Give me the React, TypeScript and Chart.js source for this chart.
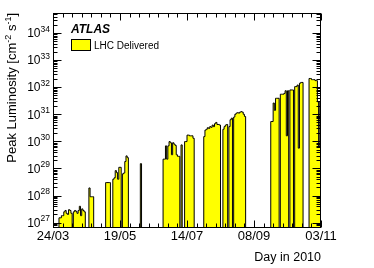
import { useEffect, useRef } from 'react';
import { Chart, registerables } from 'chart.js';

Chart.register(...registerables);

// ---- axis definitions ----
const tickDays = [0, 56, 112, 168, 224];
const tickLabels = ['24/03', '19/05', '14/07', '08/09', '03/11'];
const minorTickDays = 8;
const decadeExponents = [27, 28, 29, 30, 31, 32, 33, 34];
const X_MIN = 0;
const X_MAX = 224;
const Y_MIN = Math.pow(10, 26.8);
const Y_MAX = Math.pow(10, 34.74);
const FLOOR = 1e26; // days without stable beams

// ---- data: day (since 24/03) and peak luminosity [cm^-2 s^-1] ----
const lumiDays = [
  5, 6, 7, 8, 9, 10, 11, 12, 13, 14, 15,
  17, 18, 19, 20, 21, 22, 23, 24, 25, 26,
  30, 31, 32, 33,
  44, 45, 46, 47,
  50, 51, 52, 53, 54, 55, 56,
  58, 59, 60, 61, 62,
  73,
  92, 93, 94, 95, 96, 97, 98, 99, 100, 101, 102, 103, 104, 105,
  107,
  110, 111, 112, 113, 114, 115, 116, 117,
  126, 127, 128, 129, 130, 131, 132, 133, 134, 135, 136, 137, 138, 139,
  142, 143, 144, 145, 147, 148, 149,
  151, 152, 153, 154, 155, 156, 157, 158, 159, 160,
  182, 183, 184, 185, 186, 187, 188, 190, 191, 192, 193, 194, 195, 196,
  198, 199, 200, 202, 203, 204, 205, 206, 207, 208,
  214, 215, 216, 217, 218, 219, 220, 221, 222, 223,
];
const peakLumi = [
  1.5e27, 1.5e27, 1.8e27, 1.8e27, 2.5e27, 2.8e27, 2.2e27, 2.0e27, 3.0e27, 2.8e27, 2.2e27,
  2.5e27, 2.8e27, 2.6e27, 2.2e27, 2.8e27, 4.0e27, 1.8e27, 3.2e27, 2.8e27, 2.5e27,
  1.9e28, 9.0e27, 9.0e27, 9.0e27,
  3.0e28, 3.0e28, 3.0e28, 3.0e28,
  4.0e28, 4.5e28, 8.3e28, 7.0e28, 4.0e28, 1.1e29, 1.1e29,
  6.3e28, 6.8e28, 1.8e29, 2.9e29, 2.5e29,
  1.5e29,
  2.2e29, 2.2e29, 6.8e29, 2.2e29, 6.8e29, 9.8e29, 8.9e29, 3.2e29, 8.9e29, 7.9e29, 7.1e29, 3.2e29, 2.8e29, 2.8e29,
  7.4e29,
  9.8e29, 9.8e29, 1.7e30, 1.7e30, 1.6e30, 1.6e30, 1.6e30, 1.3e30,
  1.5e30, 2.6e30, 2.8e30, 3.2e30, 3.0e30, 3.5e30, 3.3e30, 4.0e30, 3.5e30, 4.5e30, 5.0e30, 4.2e30, 4.2e30, 4.0e30,
  2.8e30, 3.5e30, 4.0e30, 4.2e30, 3.5e30, 6.3e30, 7.2e30,
  7.9e30, 1.0e31, 1.1e31, 1.15e31, 1.1e31, 1.2e31, 1.25e31, 1.2e31, 1.0e31, 8.3e30,
  5.4e30, 5.4e30, 2.6e31, 1.4e31, 3.9e31, 3.9e31, 3.9e31, 5.5e31, 5.5e31, 5.5e31, 5.9e31, 7.4e31, 1.6e30, 7.4e31,
  7.9e31, 7.9e31, 7.9e31, 1.05e32, 1.05e32, 1.2e32, 5.6e29, 1.4e32, 1.5e32, 1.5e32,
  2.1e32, 2.1e32, 1.9e32, 1.9e32, 1.9e32, 1.75e32, 1.75e32, 2.9e31, 6.3e29, 2.9e31,
];

const FONT = '"Liberation Sans", Arial, Helvetica, sans-serif';

function buildSeries() {
  const byDay = new Map<number, number>();
  lumiDays.forEach((d, i) => byDay.set(d, peakLumi[i]));
  const pts: { x: number; y: number }[] = [];
  for (let d = X_MIN; d <= X_MAX; d++) {
    pts.push({ x: d, y: byDay.has(d) ? (byDay.get(d) as number) : FLOOR });
  }
  return pts;
}

const rootStyle = {
  id: 'rootStyle',
  afterDatasetsDraw(chart: any) {
    const { ctx, chartArea: ca, scales } = chart;
    const xs = scales.x;
    const ys = scales.y;
    const L = Math.round(ca.left) + 0.5;
    const R = Math.round(ca.right) - 0.5;
    const T = Math.round(ca.top) + 0.5;
    const B = Math.round(ca.bottom) - 0.5;
    ctx.save();
    ctx.strokeStyle = '#000';
    ctx.lineWidth = 1;
    ctx.strokeRect(L, T, R - L, B - T);

    ctx.beginPath();
    for (let d = X_MIN; d <= X_MAX; d += minorTickDays) {
      const x = Math.round(xs.getPixelForValue(d)) + 0.5;
      const len = tickDays.includes(d) ? 7 : 4;
      ctx.moveTo(x, B);
      ctx.lineTo(x, B - len);
      ctx.moveTo(x, T);
      ctx.lineTo(x, T + len);
    }
    for (let e = 26; e <= 34; e++) {
      for (let k = 1; k <= 9; k++) {
        const v = k * Math.pow(10, e);
        if (v < Y_MIN || v > Y_MAX) continue;
        const y = Math.round(ys.getPixelForValue(v)) + 0.5;
        const len = k === 1 ? 8 : 4;
        ctx.moveTo(L, y);
        ctx.lineTo(L + len, y);
        ctx.moveTo(R, y);
        ctx.lineTo(R - len, y);
      }
    }
    ctx.stroke();

    ctx.fillStyle = '#000';
    // x tick labels
    ctx.font = `13px ${FONT}`;
    ctx.textAlign = 'center';
    ctx.textBaseline = 'alphabetic';
    tickDays.forEach((d, i) => {
      ctx.fillText(tickLabels[i], xs.getPixelForValue(d), 240);
    });

    // y tick labels 10^n
    ctx.textAlign = 'left';
    decadeExponents.forEach((e) => {
      const y = ys.getPixelForValue(Math.pow(10, e));
      ctx.font = `8.5px ${FONT}`;
      const expTxt = String(e);
      const wExp = ctx.measureText(expTxt).width;
      ctx.font = `12px ${FONT}`;
      const w10 = ctx.measureText('10').width;
      const right = 50;
      ctx.fillText('10', right - wExp - w10, y + 4.3);
      ctx.font = `8.5px ${FONT}`;
      ctx.fillText(expTxt, right - wExp, y - 1.5);
    });

    // x title
    ctx.font = `12.5px ${FONT}`;
    ctx.textAlign = 'right';
    ctx.fillText('Day in 2010', R + 0.5, 260.5);

    // y title (rotated, aligned to top of frame)
    const pieces: [string, boolean][] = [
      ['Peak Luminosity [cm', false],
      ['-2', true],
      [' s', false],
      ['-1', true],
      [']', false],
    ];
    const fnt = (sup: boolean) => (sup ? `9px ${FONT}` : `13px ${FONT}`);
    let total = 0;
    pieces.forEach(([t, s]) => {
      ctx.font = fnt(s);
      total += ctx.measureText(t).width;
    });
    ctx.save();
    ctx.translate(15.5, T - 0.5);
    ctx.rotate(-Math.PI / 2);
    ctx.textAlign = 'left';
    let px = -total;
    pieces.forEach(([t, s]) => {
      ctx.font = fnt(s);
      ctx.fillText(t, px, s ? -5 : 0);
      px += ctx.measureText(t).width;
    });
    ctx.restore();

    // ATLAS label
    ctx.textAlign = 'left';
    ctx.font = `italic bold 12px ${FONT}`;
    ctx.fillText('ATLAS', 71, 33);

    // legend
    const ds = chart.data.datasets[0];
    ctx.fillStyle = ds.backgroundColor;
    ctx.fillRect(71.5, 39.5, 19, 11);
    ctx.strokeStyle = '#000';
    ctx.strokeRect(71.5, 39.5, 19, 11);
    ctx.fillStyle = '#000';
    ctx.font = `10px ${FONT}`;
    ctx.fillText(ds.label, 94, 48.5);
    ctx.restore();
  },
};

export default function App() {
  const ref = useRef<HTMLCanvasElement>(null);
  useEffect(() => {
    const chart = new Chart(ref.current as HTMLCanvasElement, {
      type: 'line',
      data: {
        datasets: [
          {
            label: 'LHC Delivered',
            data: buildSeries(),
            stepped: 'before',
            fill: 'start',
            backgroundColor: '#ffff00',
            borderColor: '#000000',
            borderWidth: 1,
            pointRadius: 0,
            tension: 0,
          },
        ],
      },
      options: {
        responsive: false,
        devicePixelRatio: 1,
        animation: false,
        events: [],
        layout: { padding: { left: 53, top: 13, right: 53, bottom: 40 } },
        plugins: { legend: { display: false }, tooltip: { enabled: false } },
        scales: {
          x: { type: 'linear', display: false, min: X_MIN, max: X_MAX },
          y: { type: 'logarithmic', display: false, min: Y_MIN, max: Y_MAX },
        },
      },
      plugins: [rootStyle],
    } as any);
    return () => chart.destroy();
  }, []);
  return (
    <div style={{ position: 'fixed', left: 0, top: 0, width: 374, height: 268, background: '#fff' }}>
      <canvas ref={ref} width={374} height={268} style={{ width: 374, height: 268, display: 'block' }} />
    </div>
  );
}
